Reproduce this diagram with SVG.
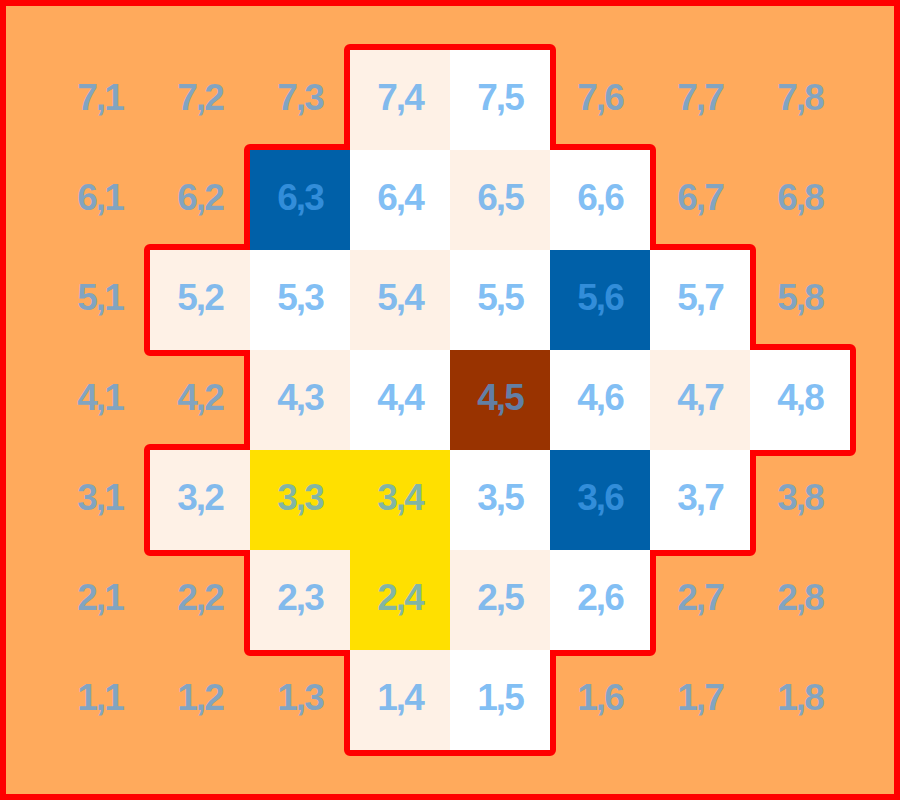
<svg xmlns="http://www.w3.org/2000/svg" width="900" height="800" viewBox="0 0 900 800">
<style>
.o{fill:#FFAA5C}.l{fill:#FEF1E6}.w{fill:#FFFFFF}.b{fill:#0060A8}.r{fill:#993300}.y{fill:#FFE000}
text{font-family:"Liberation Sans",Arial,sans-serif;font-weight:700;font-size:37px;letter-spacing:-2px;fill:#4AA2F0;fill-opacity:0.7;text-anchor:middle}
</style>
<rect x="3" y="3" width="894" height="794" fill="#FFAA5C" stroke="#FF0000" stroke-width="6"/>
<polygon id="region" points="350,50 550,50 550,150 650,150 650,250 750,250 750,350 850,350 850,450 750,450 750,550 650,550 650,650 550,650 550,750 350,750 350,650 250,650 250,550 150,550 150,450 250,450 250,350 150,350 150,250 250,250 250,150 350,150" fill="#FFFFFF" stroke="#FF0000" stroke-width="12" stroke-linejoin="round"/>
<g id="cells">
<rect class="l" x="350" y="50" width="100" height="100"/><rect class="w" x="450" y="50" width="100" height="100"/>
<rect class="b" x="250" y="150" width="100" height="100"/><rect class="w" x="350" y="150" width="100" height="100"/><rect class="l" x="450" y="150" width="100" height="100"/><rect class="w" x="550" y="150" width="100" height="100"/>
<rect class="l" x="150" y="250" width="100" height="100"/><rect class="w" x="250" y="250" width="100" height="100"/><rect class="l" x="350" y="250" width="100" height="100"/><rect class="w" x="450" y="250" width="100" height="100"/><rect class="b" x="550" y="250" width="100" height="100"/><rect class="w" x="650" y="250" width="100" height="100"/>
<rect class="l" x="250" y="350" width="100" height="100"/><rect class="w" x="350" y="350" width="100" height="100"/><rect class="r" x="450" y="350" width="100" height="100"/><rect class="w" x="550" y="350" width="100" height="100"/><rect class="l" x="650" y="350" width="100" height="100"/><rect class="w" x="750" y="350" width="100" height="100"/>
<rect class="l" x="150" y="450" width="100" height="100"/><rect class="y" x="250" y="450" width="100" height="100"/><rect class="y" x="350" y="450" width="100" height="100"/><rect class="w" x="450" y="450" width="100" height="100"/><rect class="b" x="550" y="450" width="100" height="100"/><rect class="w" x="650" y="450" width="100" height="100"/>
<rect class="l" x="250" y="550" width="100" height="100"/><rect class="y" x="350" y="550" width="100" height="100"/><rect class="l" x="450" y="550" width="100" height="100"/><rect class="w" x="550" y="550" width="100" height="100"/>
<rect class="l" x="350" y="650" width="100" height="100"/><rect class="w" x="450" y="650" width="100" height="100"/>
</g>
<g id="labels">
<text x="100" y="110">7,1</text><text x="200" y="110">7,2</text><text x="300" y="110">7,3</text><text x="400" y="110">7,4</text><text x="500" y="110">7,5</text><text x="600" y="110">7,6</text><text x="700" y="110">7,7</text><text x="800" y="110">7,8</text>
<text x="100" y="210">6,1</text><text x="200" y="210">6,2</text><text x="300" y="210">6,3</text><text x="400" y="210">6,4</text><text x="500" y="210">6,5</text><text x="600" y="210">6,6</text><text x="700" y="210">6,7</text><text x="800" y="210">6,8</text>
<text x="100" y="310">5,1</text><text x="200" y="310">5,2</text><text x="300" y="310">5,3</text><text x="400" y="310">5,4</text><text x="500" y="310">5,5</text><text x="600" y="310">5,6</text><text x="700" y="310">5,7</text><text x="800" y="310">5,8</text>
<text x="100" y="410">4,1</text><text x="200" y="410">4,2</text><text x="300" y="410">4,3</text><text x="400" y="410">4,4</text><text x="500" y="410">4,5</text><text x="600" y="410">4,6</text><text x="700" y="410">4,7</text><text x="800" y="410">4,8</text>
<text x="100" y="510">3,1</text><text x="200" y="510">3,2</text><text x="300" y="510">3,3</text><text x="400" y="510">3,4</text><text x="500" y="510">3,5</text><text x="600" y="510">3,6</text><text x="700" y="510">3,7</text><text x="800" y="510">3,8</text>
<text x="100" y="610">2,1</text><text x="200" y="610">2,2</text><text x="300" y="610">2,3</text><text x="400" y="610">2,4</text><text x="500" y="610">2,5</text><text x="600" y="610">2,6</text><text x="700" y="610">2,7</text><text x="800" y="610">2,8</text>
<text x="100" y="710">1,1</text><text x="200" y="710">1,2</text><text x="300" y="710">1,3</text><text x="400" y="710">1,4</text><text x="500" y="710">1,5</text><text x="600" y="710">1,6</text><text x="700" y="710">1,7</text><text x="800" y="710">1,8</text>
</g>
</svg>
